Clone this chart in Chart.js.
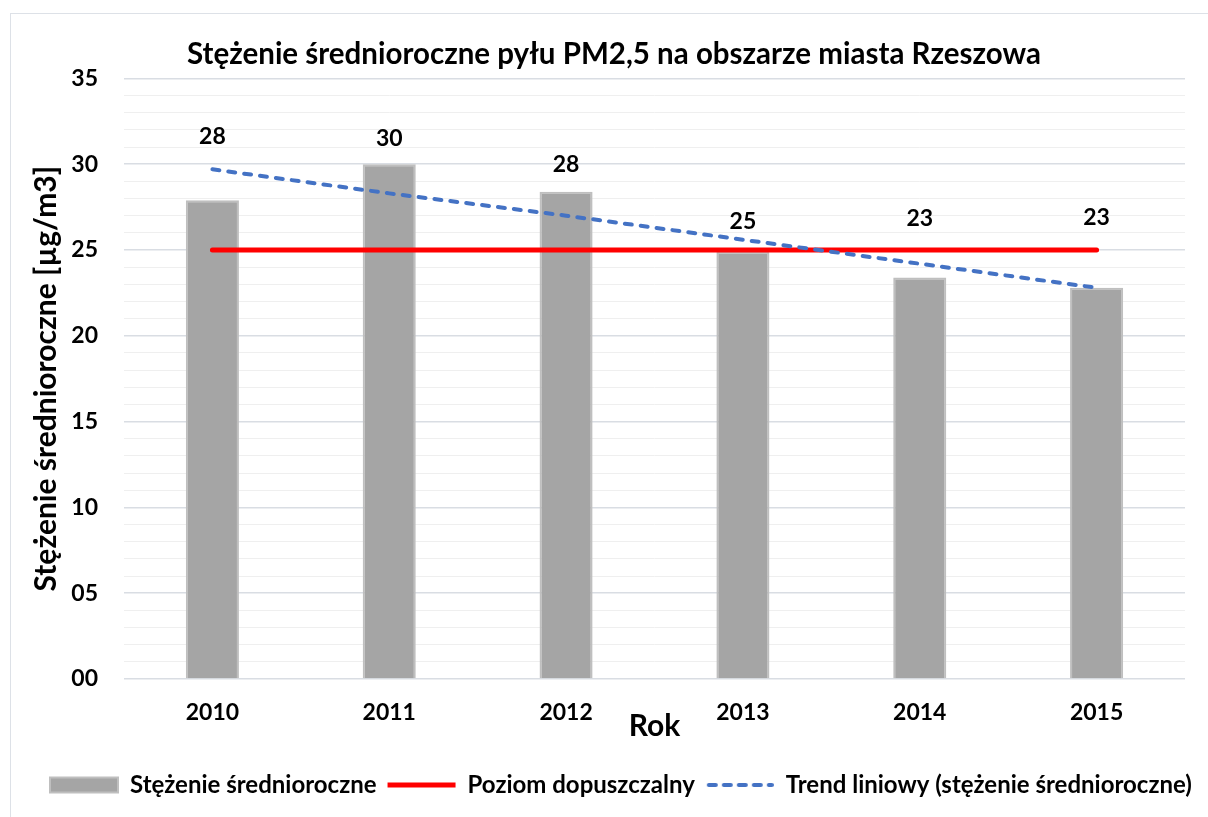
<!DOCTYPE html>
<html lang="pl">
<head>
<meta charset="utf-8">
<script src="https://cdn.jsdelivr.net/npm/chart.js@4.4.1/dist/chart.umd.min.js"></script>
<style>
  html, body { margin: 0; padding: 0; background: #fff; overflow: hidden; }
  #ramka { position: absolute; left: 10px; top: 13px; width: 1280px; height: 820px;
           border-left: 1px solid #dde1e7; border-top: 1px solid #dde1e7; }
  #wykres { display: block; }
</style>
</head>
<body>
<div id="ramka"><canvas id="wykres" width="1270" height="804"></canvas></div>
<script>
// --- dane ---
const lata = ['2010', '2011', '2012', '2013', '2014', '2015'];
const stezenie = [27.9, 30.0, 28.4, 24.9, 23.4, 22.8];
const poziomDopuszczalny = [25, 25, 25, 25, 25, 25];
const trendLiniowy = [29.7, 28.3, 27.0, 25.6, 24.2, 22.8];

// przesunięcie etykiet nad słupkami (px) - ręcznie przesunięte jak w Excelu
const przesuniecieEtykiet = [64, 26, 27, 30, 59, 70];

const FONT = 'Lato, "Open Sans", sans-serif';

// znacznik linii przerywanej do legendy (legenda Chart.js nie kreskuje pointStyle 'line')
function znacznikPrzerywany(kolor, szer) {
    const c = document.createElement('canvas');
    c.width = 68; c.height = 8;
    const g = c.getContext('2d');
    g.strokeStyle = kolor;
    g.lineWidth = szer;
    g.lineCap = 'round';
    g.setLineDash([7, 8]);
    g.beginPath();
    g.moveTo(3, 4);
    g.lineTo(66, 4);
    g.stroke();
    return c;
}

// etykiety wartości nad słupkami
const etykietyPlugin = {
    id: 'etykiety',
    afterDatasetsDraw(chart) {
        const meta = chart.getDatasetMeta(0);
        const ctx = chart.ctx;
        ctx.save();
        ctx.font = 'bold 23px ' + FONT;
        ctx.fillStyle = '#000';
        ctx.textAlign = 'center';
        ctx.textBaseline = 'middle';
        meta.data.forEach((bar, i) => {
            ctx.fillText(String(Math.round(stezenie[i])), bar.x, bar.y - przesuniecieEtykiet[i]);
        });
        ctx.restore();
    }
};

// tytuł wyśrodkowany względem widocznej ramki
const tytulPlugin = {
    id: 'tytulSrodek',
    afterLayout(chart) {
        const t = chart.titleBlock;
        if (t) { t.left = 0; t.right = 1206; t.width = 1206; }
    }
};

const ctx = document.getElementById('wykres').getContext('2d');
new Chart(ctx, {
    type: 'bar',
    data: {
        labels: lata,
        datasets: [
            { label: 'Stężenie średnioroczne', data: stezenie, backgroundColor: '#a5a5a5',
              borderColor: '#bfbfbf', borderWidth: 2, barPercentage: 0.3, categoryPercentage: 1, order: 3 },
            { type: 'line', label: 'Poziom dopuszczalny', data: poziomDopuszczalny, borderColor: '#ff0000',
              backgroundColor: '#ff0000', borderWidth: 5, borderCapStyle: 'round', pointRadius: 0, fill: false, order: 2 },
            { type: 'line', label: 'Trend liniowy (stężenie średnioroczne)', data: trendLiniowy, borderColor: '#4472c4',
              backgroundColor: '#4472c4', borderWidth: 4, borderDash: [7, 9], borderCapStyle: 'round',
              pointRadius: 0, fill: false, order: 1 }
        ]
    },
    options: {
        responsive: false,
        animation: false,
        layout: { padding: { left: 28, right: 10, top: 0, bottom: 11 } },
        plugins: {
            tooltip: { enabled: false },
            title: {
                display: true,
                text: 'Stężenie średnioroczne pyłu PM2,5 na obszarze miasta Rzeszowa',
                color: '#000',
                font: { family: FONT, size: 29.5, weight: 'bold' },
                padding: { top: 23, bottom: 6 }
            },
            legend: {
                position: 'bottom',
                align: 'start',
                labels: {
                    color: '#000',
                    font: { family: FONT, size: 24, weight: 'bold' },
                    usePointStyle: true,
                    pointStyleWidth: 68,
                    boxHeight: 15,
                    padding: 11,
                    generateLabels(chart) {
                        const items = Chart.defaults.plugins.legend.labels.generateLabels(chart);
                        items.forEach(it => {
                            if (it.datasetIndex === 0) it.pointStyle = 'rect';
                            else if (it.datasetIndex === 1) it.pointStyle = 'line';
                            else it.pointStyle = znacznikPrzerywany('#4472c4', 4);
                        });
                        return items.sort((a, b) => a.datasetIndex - b.datasetIndex);
                    }
                }
            }
        },
        scales: {
            x: {
                grid: { display: false, drawTicks: false },
                border: { display: false },
                ticks: { color: '#000', padding: 20, font: { family: FONT, size: 23, weight: 'bold' } },
                title: { display: true, text: 'Rok', color: '#000',
                         font: { family: FONT, size: 30, weight: 'bold' }, padding: { top: 0, bottom: 18 } },
                afterFit(s) { s.height = 83; }
            },
            y: {
                min: 0, max: 35,
                border: { display: false },
                grid: {
                    drawTicks: false,
                    color: c => (c.tick.value % 5 === 0 ? '#d9dde3' : '#efefef'),
                    lineWidth: c => (c.tick.value % 5 === 0 ? 1.5 : 1)
                },
                ticks: {
                    stepSize: 1, autoSkip: false, color: '#000', padding: 26,
                    font: { family: FONT, size: 23, weight: 'bold' },
                    callback: v => (v % 5 === 0 ? String(v).padStart(2, '0') : '')
                },
                title: { display: true, text: 'Stężenie średnioroczne [µg/m3]', color: '#000',
                         font: { family: FONT, size: 30, weight: 'bold' }, padding: { top: -11, bottom: 0 } },
                afterFit(s) { s.width = 85; }
            },
            prawa: {
                position: 'right',
                grid: { display: false, drawTicks: false },
                border: { display: false },
                ticks: { display: false },
                afterFit(s) { s.width = 86; }
            }
        }
    },
    plugins: [etykietyPlugin, tytulPlugin]
});
</script>
</body>
</html>
